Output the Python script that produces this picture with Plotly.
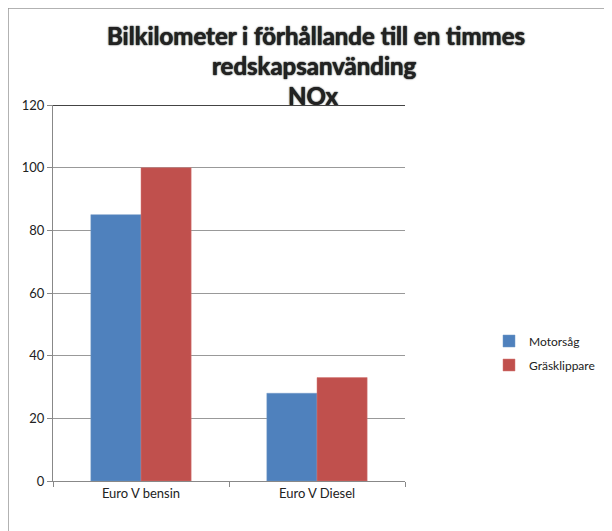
import plotly.graph_objects as go

categories = ["Euro V bensin", "Euro V Diesel"]
motorsag = [85, 28]
grasklippare = [100, 33]
series_names = ["Motorsåg", "Gräsklippare"]
title_lines = ["Bilkilometer i förhållande till en timmes", "redskapsanvänding", "NOx"]
yticks = [0, 20, 40, 60, 80, 100, 120]

OFF = 8  # page body margin
W, H = 612 - OFF, 531 - OFF
L, R, T, B = 53 - OFF, 405 - OFF, 105 - OFF, 481 - OFF

def px_x(p):
    return (p - OFF - L) / (R - L)

def px_y(p):
    return (B - (p - OFF)) / (B - T)

fig = go.Figure()
fig.add_trace(go.Bar(x=categories, y=motorsag, name=series_names[0], legendgroup="a",
                     marker=dict(color="#4F81BD", line=dict(color="#7399C6", width=0.5))))
fig.add_trace(go.Bar(x=categories, y=grasklippare, name=series_names[1], legendgroup="b",
                     marker=dict(color="#C0504D", line=dict(color="#D47876", width=0.5))))

font_family = "Lato, 'Open Sans', sans-serif"

fig.update_layout(
    width=W, height=H,
    margin=dict(l=L, r=W - R, t=T, b=H - B, pad=0, autoexpand=False),
    paper_bgcolor="white", plot_bgcolor="white",
    barmode="group", bargap=0.43, bargroupgap=0,
    font=dict(family=font_family, size=12, color="#222"),
    showlegend=True,
    legend=dict(xref="container", yref="container",
                x=(489 - OFF) / W, y=1 - (353 - OFF) / H,
                xanchor="left", yanchor="middle",
                font=dict(size=12, color="#222"), itemwidth=30,
                tracegroupgap=5),
    xaxis=dict(showline=True, linecolor="#888", linewidth=1,
               ticks="outside", ticklen=5, tickcolor="#888",
               tickson="boundaries", showgrid=False,
               tickfont=dict(size=13, color="#222")),
    yaxis=dict(range=[0, 120], tickvals=yticks, showline=True, linecolor="#888",
               linewidth=1, ticks="outside", ticklen=5, tickcolor="#888",
               showgrid=True, gridcolor="#999", gridwidth=1,
               zeroline=False, tickfont=dict(size=13, color="#222")),
)

ys = [36, 66, 96]
xs = [316, 314, 313]
for txt, xx, yy in zip(title_lines, xs, ys):
    fig.add_annotation(text="<b>" + txt + "</b>", x=px_x(xx), y=px_y(yy),
                       xref="paper", yref="paper", showarrow=False,
                       xanchor="center", yanchor="middle",
                       font=dict(family=font_family, size=24, color="#222",
                                 shadow="0px 0px 1px #000, 0px 0px 2px #666"))

# top gridline darker
fig.add_shape(type="line", xref="paper", yref="y", x0=0, x1=1, y0=120, y1=120,
              line=dict(color="#444", width=2))
# outer chart border (top and left)
fig.add_shape(type="line", xref="paper", yref="paper", x0=px_x(7), x1=px_x(650),
              y0=px_y(8), y1=px_y(8), line=dict(color="#999", width=1.5))
fig.add_shape(type="line", xref="paper", yref="paper", x0=px_x(8), x1=px_x(8),
              y0=px_y(7), y1=px_y(560), line=dict(color="#999", width=1.5))

fig.write_html("out.html")
